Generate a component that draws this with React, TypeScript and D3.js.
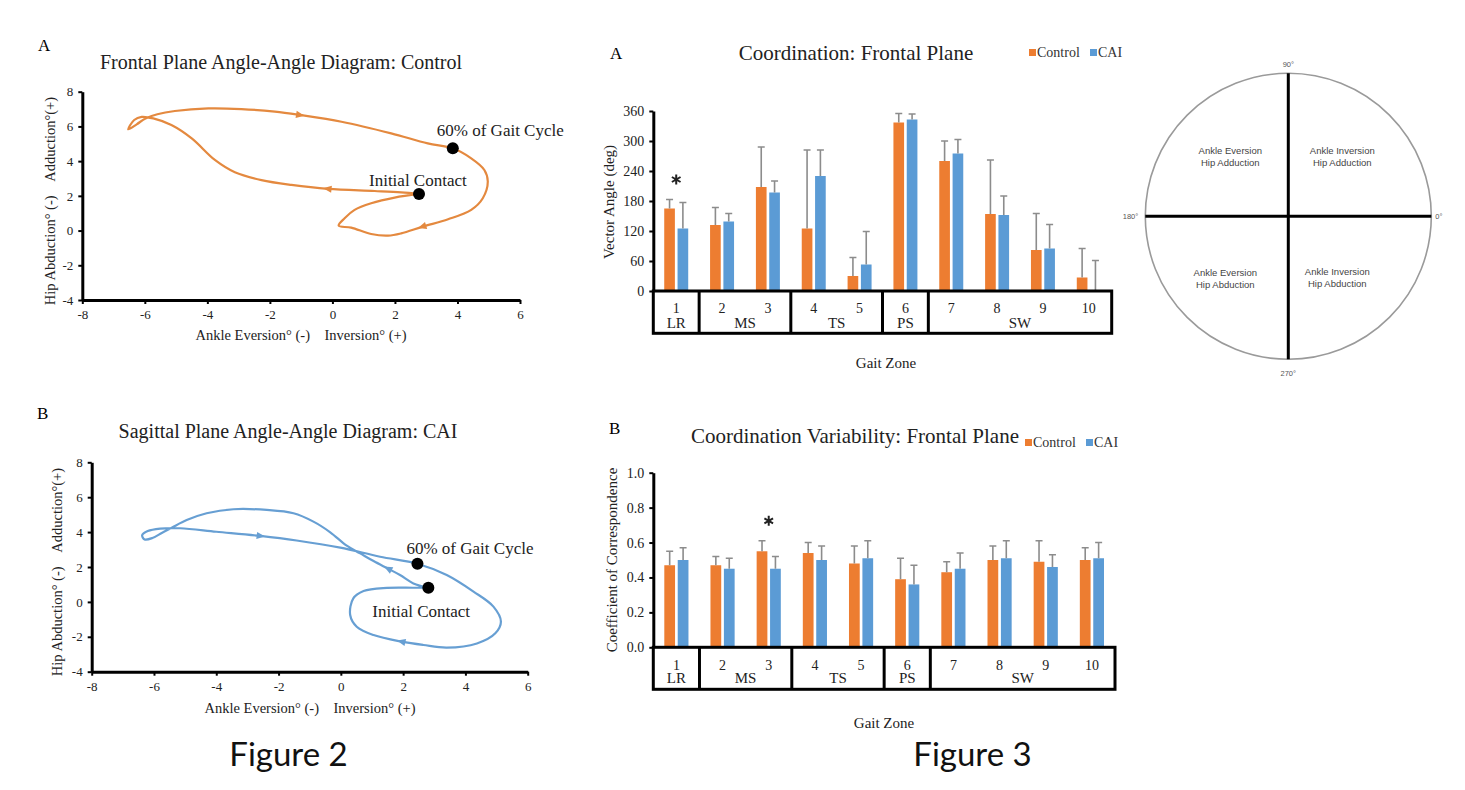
import { useEffect, useRef } from "react";
import * as d3 from "d3";

const WIDTH = 1465;
const HEIGHT = 790;
const SERIF = "'Liberation Serif', 'Times New Roman', serif";
const SANS = "'Liberation Sans', Arial, sans-serif";

const ORANGE = "#ED7D31";
const BLUE = "#5B9BD5";
const LINE_ORANGE = "#E4893F";
const LINE_BLUE = "#679FD3";
const ERR_GREY = "#8C8C8C";

type Pt = [number, number];

// ---- Figure 2: angle-angle traces [ankle deg, hip deg], starting at initial contact
const controlTrace: Pt[] = [
  [2.77, 2.11], [2.2, 2.2], [1.35, 2.28], [-0.14, 2.4], [-1.31, 2.63], [-2.27, 2.91],
  [-3.12, 3.36], [-3.76, 4.07], [-4.5, 5.31], [-5.15, 6.08], [-5.73, 6.46], [-6.1, 6.55],
  [-6.34, 6.37], [-6.53, 5.83], [-6.26, 6.12], [-5.98, 6.46], [-5.6, 6.7], [-5.04, 6.89],
  [-3.97, 7.04], [-2.91, 7.0], [-1.84, 6.85], [-1.05, 6.66], [0.29, 6.27], [1.88, 5.6],
  [3.05, 5.02], [3.85, 4.74], [4.44, 4.16], [4.86, 3.49], [4.97, 2.82], [4.81, 1.86],
  [4.44, 1.19], [3.7, 0.65], [2.89, 0.23], [2.2, -0.16], [1.78, -0.29], [1.24, -0.2],
  [0.6, 0.17], [0.2, 0.28], [0.39, 0.71], [0.71, 1.19], [1.24, 1.57], [1.99, 1.9],
  [2.77, 2.11],
];
const caiTrace: Pt[] = [
  [2.81, 0.81], [2.33, 1.06], [1.9, 1.54], [1.53, 1.89], [1.05, 2.34], [0.62, 2.78],
  [0.19, 3.22], [-0.34, 3.99], [-0.88, 4.6], [-1.52, 5.08], [-2.38, 5.27], [-3.45, 5.31],
  [-4.31, 5.08], [-4.95, 4.69], [-5.43, 4.25], [-5.75, 3.95], [-6.05, 3.66], [-6.3, 3.58],
  [-6.38, 3.82], [-6.2, 4.06], [-5.8, 4.2], [-5.16, 4.22], [-4.0, 4.02], [-2.59, 3.78],
  [-1.42, 3.52], [-0.02, 3.11], [1.26, 2.59], [2.46, 2.19], [3.4, 1.54], [4.26, 0.59],
  [4.9, -0.27], [5.14, -1.13], [4.96, -1.8], [4.37, -2.38], [3.4, -2.62], [2.65, -2.47],
  [1.96, -2.28], [1.05, -1.9], [0.51, -1.42], [0.3, -0.75], [0.4, 0.2], [0.73, 0.62],
  [1.48, 0.8], [2.33, 0.81], [2.81, 0.81],
];
// trace points that carry a direction arrow (pointing to the next point)
const controlArrowIdx = [3, 21, 32];
const caiArrowIdx = [3, 23, 36];
const controlInitialContact: Pt = [2.77, 2.11];
const controlSixtyPct: Pt = [3.85, 4.74];
const caiInitialContact: Pt = [2.81, 0.81];
const caiSixtyPct: Pt = [2.46, 2.19];
const ankleTicks = [-8, -6, -4, -2, 0, 2, 4, 6];
const hipTicks = [-4, -2, 0, 2, 4, 6, 8];

// ---- Figure 3: coordination by gait zone
const gaitZones = ["1", "2", "3", "4", "5", "6", "7", "8", "9", "10"];
const phaseNames = ["LR", "MS", "TS", "PS", "SW"];
const phaseZones = [["1"], ["2", "3"], ["4", "5"], ["6"], ["7", "8", "9", "10"]];
const groups = ["Control", "CAI"];

const vectorAngleControl = [165, 132, 208, 125, 30, 337, 260, 154, 82, 27];
const vectorAngleControlSd = [18, 35, 80, 157, 37, 18, 40, 108, 73, 58];
const vectorAngleCai = [125, 139, 197, 230, 53, 343, 275, 152, 85, 0];
const vectorAngleCaiSd = [52, 16, 23, 52, 66, 11, 28, 38, 48, 61];
const vectorAngleTicks = [0, 60, 120, 180, 240, 300, 360];
const vectorAngleSig = ["1"];

const ccControl = [0.47, 0.47, 0.55, 0.54, 0.48, 0.39, 0.43, 0.5, 0.49, 0.5];
const ccControlSd = [0.08, 0.05, 0.06, 0.06, 0.1, 0.12, 0.06, 0.08, 0.12, 0.07];
const ccCai = [0.5, 0.45, 0.45, 0.5, 0.51, 0.36, 0.45, 0.51, 0.46, 0.51];
const ccCaiSd = [0.07, 0.06, 0.07, 0.08, 0.1, 0.11, 0.09, 0.1, 0.07, 0.09];
const ccTicks = [0, 0.2, 0.4, 0.6, 0.8, 1.0];
const ccSig = ["3"];

// coupling angle quadrants
const quadrantLabels = [
  ["Ankle Eversion", "Hip Adduction"],
  ["Ankle Inversion", "Hip Adduction"],
  ["Ankle Eversion", "Hip Abduction"],
  ["Ankle Inversion", "Hip Abduction"],
];
const polarLabels = ["0°", "90°", "180°", "270°"];

type Sel = d3.Selection<SVGSVGElement, unknown, null, undefined>;

function styleAxis(axisG: any, fontSize: number) {
  axisG.select(".domain").attr("stroke", "#000").attr("stroke-width", 3);
  axisG.selectAll(".tick line").attr("stroke", "#000").attr("stroke-width", 2);
  axisG
    .selectAll("text")
    .attr("fill", "#222")
    .style("font-family", SERIF)
    .style("font-size", `${fontSize}px`);
}

function drawAngleDiagram(
  svg: Sel,
  o: {
    trace: Pt[];
    arrows: number[];
    ic: Pt;
    sixty: Pt;
    color: string;
    xRange: [number, number];
    yRange: [number, number];
    letter: string;
    letterPos: [number, number];
    title: string;
    titlePos: [number, number];
    yTitlePos: [number, number];
    xTitlePos: [number, number];
    icLabel: [number, number];
    sixtyLabel: [number, number];
  },
) {
  const x = d3.scaleLinear().domain([-8, 6]).range(o.xRange);
  const y = d3.scaleLinear().domain([-4, 8]).range(o.yRange);
  const g = svg.append("g");

  g.append("text")
    .attr("x", o.letterPos[0])
    .attr("y", o.letterPos[1])
    .style("font-family", SERIF)
    .style("font-size", "17px")
    .text(o.letter);

  g.append("text")
    .attr("x", o.titlePos[0])
    .attr("y", o.titlePos[1])
    .attr("text-anchor", "middle")
    .style("font-family", SERIF)
    .style("font-size", "20px")
    .attr("fill", "#222")
    .text(o.title);

  const line = d3
    .line<Pt>()
    .x((d) => x(d[0]))
    .y((d) => y(d[1]))
    .curve(d3.curveCatmullRom.alpha(0.5));

  g.append("path")
    .attr("d", line(o.trace) ?? "")
    .attr("fill", "none")
    .attr("stroke", o.color)
    .attr("stroke-width", 2.2);

  // direction arrows
  g.selectAll("path.arrow")
    .data(o.arrows)
    .enter()
    .append("path")
    .attr("class", "arrow")
    .attr("d", "M5,0 L-3.5,-3.6 L-3.5,3.6 Z")
    .attr("fill", o.color)
    .attr("transform", (i: number) => {
      const p = o.trace[i];
      const q = o.trace[i + 1];
      const a = (Math.atan2(y(q[1]) - y(p[1]), x(q[0]) - x(p[0])) * 180) / Math.PI;
      return `translate(${x(p[0])},${y(p[1])}) rotate(${a})`;
    });

  // axes
  const xAxis = g
    .append("g")
    .attr("transform", `translate(0,${o.yRange[0]})`)
    .call(
      d3
        .axisBottom(x)
        .tickValues(ankleTicks)
        .tickSize(4)
        .tickSizeOuter(0)
        .tickPadding(6)
        .tickFormat((d: any) => String(d)),
    );
  styleAxis(xAxis, 13);

  const yAxis = g
    .append("g")
    .attr("transform", `translate(${o.xRange[0]},0)`)
    .call(
      d3
        .axisLeft(y)
        .tickValues(hipTicks)
        .tickSize(4)
        .tickSizeOuter(0)
        .tickPadding(5)
        .tickFormat((d: any) => String(d)),
    );
  styleAxis(yAxis, 13);

  g.append("text")
    .attr("transform", `translate(${o.yTitlePos[0]},${o.yTitlePos[1]}) rotate(-90)`)
    .attr("text-anchor", "middle")
    .attr("dominant-baseline", "central")
    .style("font-family", SERIF)
    .style("font-size", "14.5px")
    .style("white-space", "pre")
    .attr("fill", "#222")
    .text("Hip Abduction° (-)    Adduction°(+)");

  g.append("text")
    .attr("x", o.xTitlePos[0])
    .attr("y", o.xTitlePos[1])
    .attr("text-anchor", "middle")
    .attr("dominant-baseline", "central")
    .style("font-family", SERIF)
    .style("font-size", "14.5px")
    .style("white-space", "pre")
    .attr("fill", "#222")
    .text("Ankle Eversion° (-)    Inversion° (+)");

  // event markers
  const events: { p: Pt; label: string; off: [number, number] }[] = [
    { p: o.sixty, label: "60% of Gait Cycle", off: o.sixtyLabel },
    { p: o.ic, label: "Initial Contact", off: o.icLabel },
  ];
  events.forEach((e) => {
    g.append("circle")
      .attr("cx", x(e.p[0]))
      .attr("cy", y(e.p[1]))
      .attr("r", 6)
      .attr("fill", "#000");
    g.append("text")
      .attr("x", x(e.p[0]) + e.off[0])
      .attr("y", y(e.p[1]) + e.off[1])
      .style("font-family", SERIF)
      .style("font-size", "17px")
      .attr("fill", "#222")
      .text(e.label);
  });
}

function drawCoordinationBars(
  svg: Sel,
  o: {
    control: number[];
    controlSd: number[];
    cai: number[];
    caiSd: number[];
    domain: [number, number];
    ticks: number[];
    tickFormat: (v: number) => string;
    sig: string[];
    xRange: [number, number];
    yRange: [number, number];
    boxBottom: number;
    numberY: number;
    phaseY: number;
    letter: string;
    letterPos: [number, number];
    title: string;
    titlePos: [number, number];
    legendPos: [number, number];
    yTitle: string;
    yTitlePos: [number, number];
    xTitlePos: [number, number];
  },
) {
  const x0 = d3.scaleBand().domain(gaitZones).range(o.xRange);
  const x1 = d3
    .scaleBand()
    .domain(groups)
    .range([0, x0.bandwidth()])
    .paddingInner(0.2)
    .paddingOuter(0.82);
  const y = d3.scaleLinear().domain(o.domain).range(o.yRange);
  const color = d3.scaleOrdinal<string, string>().domain(groups).range([ORANGE, BLUE]);

  const rows = gaitZones.flatMap((z, i) => [
    { zone: z, group: "Control", value: o.control[i], sd: o.controlSd[i] },
    { zone: z, group: "CAI", value: o.cai[i], sd: o.caiSd[i] },
  ]);
  type Row = (typeof rows)[number];

  const g = svg.append("g");

  g.append("text")
    .attr("x", o.letterPos[0])
    .attr("y", o.letterPos[1])
    .style("font-family", SERIF)
    .style("font-size", "17px")
    .text(o.letter);

  g.append("text")
    .attr("x", o.titlePos[0])
    .attr("y", o.titlePos[1])
    .attr("text-anchor", "middle")
    .style("font-family", SERIF)
    .style("font-size", "21px")
    .attr("fill", "#222")
    .text(o.title);

  // legend
  const legend = g.append("g").attr("transform", `translate(${o.legendPos[0]},${o.legendPos[1]})`);
  const legendX = [0, 61];
  groups.forEach((grp, i) => {
    legend
      .append("rect")
      .attr("x", legendX[i])
      .attr("y", -4)
      .attr("width", 7)
      .attr("height", 7)
      .attr("fill", color(grp));
    legend
      .append("text")
      .attr("x", legendX[i] + 8)
      .attr("y", 4)
      .style("font-family", SERIF)
      .style("font-size", "14px")
      .attr("fill", "#333")
      .text(grp);
  });

  const bx = (d: Row) => (x0(d.zone) ?? 0) + (x1(d.group) ?? 0);

  g.selectAll("rect.bar")
    .data(rows)
    .enter()
    .append("rect")
    .attr("class", "bar")
    .attr("x", bx)
    .attr("width", x1.bandwidth())
    .attr("y", (d: Row) => y(d.value))
    .attr("height", (d: Row) => y(o.domain[0]) - y(d.value))
    .attr("fill", (d: Row) => color(d.group));

  // error bars (upper only)
  const cap = 3.5;
  g.selectAll("path.err")
    .data(rows)
    .enter()
    .append("path")
    .attr("class", "err")
    .attr("d", (d: Row) => {
      const cx = bx(d) + x1.bandwidth() / 2;
      const y0 = y(d.value);
      const y1 = y(d.value + d.sd);
      return `M${cx},${y0}V${y1}M${cx - cap},${y1}H${cx + cap}`;
    })
    .attr("fill", "none")
    .attr("stroke", ERR_GREY)
    .attr("stroke-width", 1.6);

  // significance markers
  const star = d3.symbol().type(d3.symbolAsterisk).size(70);
  o.sig.forEach((z) => {
    const i = gaitZones.indexOf(z);
    const top = Math.max(o.control[i] + o.controlSd[i], o.cai[i] + o.caiSd[i]);
    g.append("path")
      .attr("d", star() ?? "")
      .attr("transform", `translate(${(x0(z) ?? 0) + x0.bandwidth() / 2},${y(top) - 20})`)
      .attr("fill", "none")
      .attr("stroke", "#222")
      .attr("stroke-width", 2);
  });

  // y axis
  const yAxis = g
    .append("g")
    .attr("transform", `translate(${o.xRange[0]},0)`)
    .call(
      d3
        .axisLeft(y)
        .tickValues(o.ticks)
        .tickSize(4)
        .tickSizeOuter(0)
        .tickPadding(5)
        .tickFormat((d: any) => o.tickFormat(Number(d))),
    );
  styleAxis(yAxis, 14);

  // gait zone / phase box
  const yBase = y(o.domain[0]);
  g.append("rect")
    .attr("x", o.xRange[0])
    .attr("y", yBase)
    .attr("width", o.xRange[1] - o.xRange[0])
    .attr("height", o.boxBottom - yBase)
    .attr("fill", "none")
    .attr("stroke", "#000")
    .attr("stroke-width", 3);

  phaseZones.slice(1).forEach((zs) => {
    const sx = x0(zs[0]) ?? 0;
    g.append("line")
      .attr("x1", sx)
      .attr("x2", sx)
      .attr("y1", yBase)
      .attr("y2", o.boxBottom)
      .attr("stroke", "#000")
      .attr("stroke-width", 3);
  });

  g.selectAll("text.zone")
    .data(gaitZones)
    .enter()
    .append("text")
    .attr("class", "zone")
    .attr("x", (z: string) => (x0(z) ?? 0) + x0.bandwidth() / 2)
    .attr("y", o.numberY)
    .attr("text-anchor", "middle")
    .attr("dominant-baseline", "central")
    .style("font-family", SERIF)
    .style("font-size", "14px")
    .attr("fill", "#222")
    .text((z: string) => z);

  phaseNames.forEach((name, i) => {
    const zs = phaseZones[i];
    const left = x0(zs[0]) ?? 0;
    const right = (x0(zs[zs.length - 1]) ?? 0) + x0.bandwidth();
    g.append("text")
      .attr("x", (left + right) / 2)
      .attr("y", o.phaseY)
      .attr("text-anchor", "middle")
      .attr("dominant-baseline", "central")
      .style("font-family", SERIF)
      .style("font-size", "15px")
      .attr("fill", "#222")
      .text(name);
  });

  g.append("text")
    .attr("transform", `translate(${o.yTitlePos[0]},${o.yTitlePos[1]}) rotate(-90)`)
    .attr("text-anchor", "middle")
    .attr("dominant-baseline", "central")
    .style("font-family", SERIF)
    .style("font-size", "15px")
    .attr("fill", "#222")
    .text(o.yTitle);

  g.append("text")
    .attr("x", o.xTitlePos[0])
    .attr("y", o.xTitlePos[1])
    .attr("text-anchor", "middle")
    .attr("dominant-baseline", "central")
    .style("font-family", SERIF)
    .style("font-size", "15px")
    .attr("fill", "#222")
    .text("Gait Zone");
}

function drawCouplingCircle(svg: Sel) {
  const cx = 1288.3;
  const cy = 216.3;
  const r = 143;
  const g = svg.append("g");

  g.append("circle")
    .attr("cx", cx)
    .attr("cy", cy)
    .attr("r", r)
    .attr("fill", "none")
    .attr("stroke", "#9a9a9a")
    .attr("stroke-width", 1.6);

  g.append("line").attr("x1", cx - r).attr("x2", cx + r).attr("y1", cy).attr("y2", cy)
    .attr("stroke", "#000").attr("stroke-width", 3);
  g.append("line").attr("x1", cx).attr("x2", cx).attr("y1", cy - r).attr("y2", cy + r)
    .attr("stroke", "#000").attr("stroke-width", 3);

  const quadOffsets: [number, number][] = [
    [-58, -62],
    [54, -62],
    [-63, 60],
    [49, 59],
  ];
  quadrantLabels.forEach((lines, i) => {
    const t = g
      .append("text")
      .attr("x", cx + quadOffsets[i][0])
      .attr("y", cy + quadOffsets[i][1])
      .attr("text-anchor", "middle")
      .style("font-family", SANS)
      .style("font-size", "9.5px")
      .attr("fill", "#444");
    lines.forEach((ln, j) => {
      t.append("tspan")
        .attr("x", cx + quadOffsets[i][0])
        .attr("dy", j === 0 ? 0 : 11.5)
        .text(ln);
    });
  });

  const polarPos: { dx: number; dy: number; anchor: string }[] = [
    { dx: r + 4, dy: 3, anchor: "start" },
    { dx: 0, dy: -r - 6, anchor: "middle" },
    { dx: -r - 7, dy: 3, anchor: "end" },
    { dx: 0, dy: r + 17, anchor: "middle" },
  ];
  polarLabels.forEach((lbl, i) => {
    g.append("text")
      .attr("x", cx + polarPos[i].dx)
      .attr("y", cy + polarPos[i].dy)
      .attr("text-anchor", polarPos[i].anchor)
      .style("font-family", SANS)
      .style("font-size", "7.5px")
      .attr("fill", "#555")
      .text(lbl);
  });
}

export default function App() {
  const svgRef = useRef<SVGSVGElement | null>(null);

  useEffect(() => {
    if (!svgRef.current) return;
    const svg = d3.select(svgRef.current) as Sel;
    svg.selectAll("*").remove();

    svg.append("rect").attr("width", WIDTH).attr("height", HEIGHT).attr("fill", "#fff");

    drawAngleDiagram(svg, {
      trace: controlTrace,
      arrows: controlArrowIdx,
      ic: controlInitialContact,
      sixty: controlSixtyPct,
      color: LINE_ORANGE,
      xRange: [82.3, 520],
      yRange: [300, 91.7],
      letter: "A",
      letterPos: [38, 51],
      title: "Frontal Plane Angle-Angle Diagram: Control",
      titlePos: [281, 69],
      yTitlePos: [50, 201],
      xTitlePos: [301, 335],
      icLabel: [-50, -8],
      sixtyLabel: [-16, -12],
    });

    drawAngleDiagram(svg, {
      trace: caiTrace,
      arrows: caiArrowIdx,
      ic: caiInitialContact,
      sixty: caiSixtyPct,
      color: LINE_BLUE,
      xRange: [91.7, 527.7],
      yRange: [671.7, 462.3],
      letter: "B",
      letterPos: [37, 419],
      title: "Sagittal Plane Angle-Angle Diagram: CAI",
      titlePos: [288, 438],
      yTitlePos: [57, 572],
      xTitlePos: [310, 708],
      icLabel: [-56, 29],
      sixtyLabel: [-11, -10],
    });

    drawCoordinationBars(svg, {
      control: vectorAngleControl,
      controlSd: vectorAngleControlSd,
      cai: vectorAngleCai,
      caiSd: vectorAngleCaiSd,
      domain: [0, 360],
      ticks: vectorAngleTicks,
      tickFormat: (v) => String(v),
      sig: vectorAngleSig,
      xRange: [653.3, 1111.7],
      yRange: [291, 111],
      boxBottom: 333.3,
      numberY: 308.3,
      phaseY: 323.3,
      letter: "A",
      letterPos: [610, 59],
      title: "Coordination: Frontal Plane",
      titlePos: [856, 60],
      legendPos: [1029, 53],
      yTitle: "Vector Angle (deg)",
      yTitlePos: [609, 202],
      xTitlePos: [886, 363],
    });

    drawCoordinationBars(svg, {
      control: ccControl,
      controlSd: ccControlSd,
      cai: ccCai,
      caiSd: ccCaiSd,
      domain: [0, 1],
      ticks: ccTicks,
      tickFormat: d3.format(".1f"),
      sig: ccSig,
      xRange: [653.3, 1115],
      yRange: [647.3, 472.7],
      boxBottom: 689.3,
      numberY: 665,
      phaseY: 678.3,
      letter: "B",
      letterPos: [609, 434],
      title: "Coordination Variability: Frontal Plane",
      titlePos: [855, 443],
      legendPos: [1025, 443],
      yTitle: "Coefficient of Correspondence",
      yTitlePos: [612, 560],
      xTitlePos: [884, 723],
    });

    drawCouplingCircle(svg);

    // figure captions
    [
      { label: "Figure 2", x: 288.5 },
      { label: "Figure 3", x: 972.5 },
    ].forEach((c) => {
      svg
        .append("text")
        .attr("x", c.x)
        .attr("y", 766)
        .attr("text-anchor", "middle")
        .style("font-family", "Lato, 'Open Sans', sans-serif")
        .style("font-size", "33px")
        .attr("fill", "#111")
        .text(c.label);
    });
  }, []);

  return (
    <svg
      ref={svgRef}
      width={WIDTH}
      height={HEIGHT}
      style={{ position: "absolute", left: 0, top: 0, background: "#fff" }}
    />
  );
}
